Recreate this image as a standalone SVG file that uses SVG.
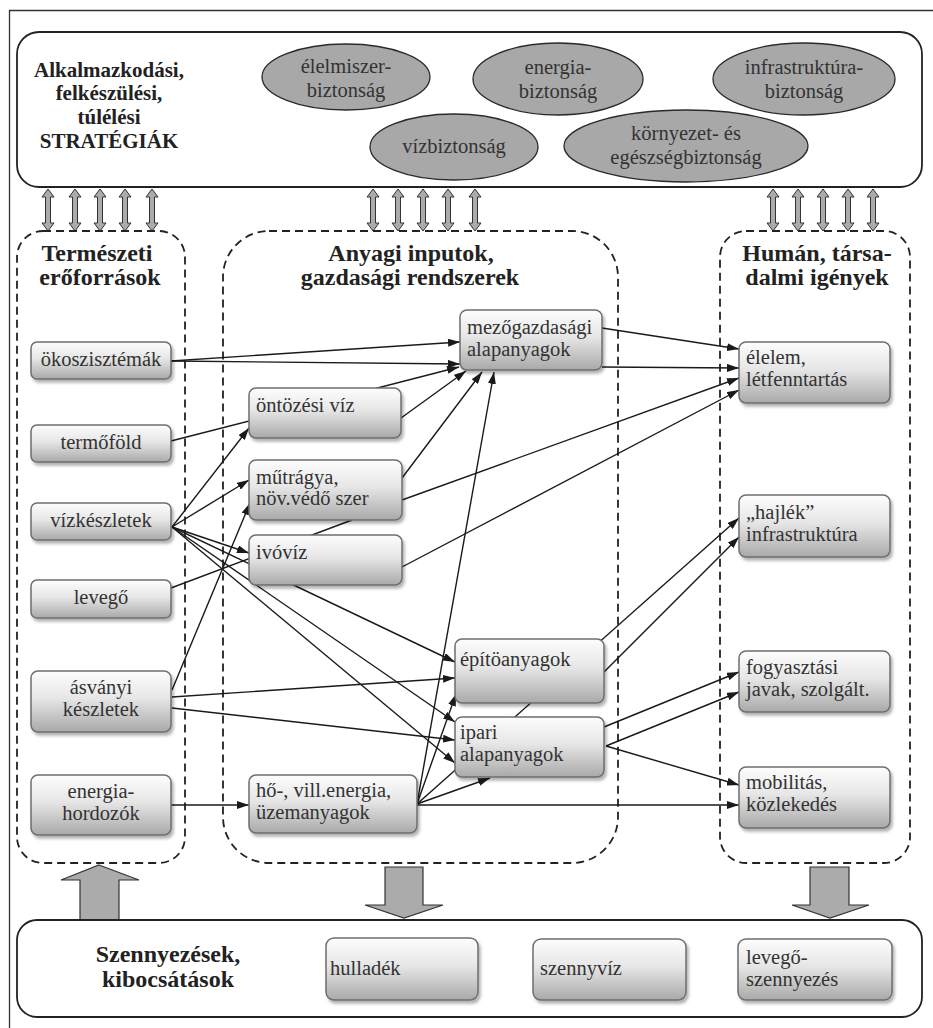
<svg xmlns="http://www.w3.org/2000/svg" xmlns:xlink="http://www.w3.org/1999/xlink" width="933" height="1028" viewBox="0 0 933 1028">
<defs>
<linearGradient id="ng" x1="0" y1="0" x2="0" y2="1">
<stop offset="0" stop-color="#fdfdfd"/>
<stop offset="0.45" stop-color="#e6e6e6"/>
<stop offset="1" stop-color="#a9a9a9"/>
</linearGradient>
<filter id="sh" x="-10%" y="-10%" width="125%" height="135%">
<feDropShadow dx="2" dy="3" stdDeviation="1.6" flood-color="#000" flood-opacity="0.3"/>
</filter>
<marker id="ah" viewBox="0 0 12 8" refX="12" refY="4" markerWidth="12" markerHeight="8" markerUnits="userSpaceOnUse" orient="auto">
<path d="M0,0 L12,4 L0,8 z" fill="#1a1a1a"/>
</marker>
<path id="dbl" d="M0,0 L6,8 L2.5,8 L2.5,34 L6,34 L0,42 L-6,34 L-2.5,34 L-2.5,8 L-6,8 Z"/>
<style>
.t{font-family:"Liberation Serif","Times New Roman",serif;fill:#333;font-size:20.5px}
.b{font-family:"Liberation Serif","Times New Roman",serif;fill:#222;font-weight:bold}
.c{text-anchor:middle}
.node{fill:url(#ng);stroke:#6e6e6e;stroke-width:1.5;filter:url(#sh)}
.ell{fill:#a8a8a8;stroke:#2a2a2a;stroke-width:1.3}
.dash{fill:none;stroke:#222;stroke-width:1.8;stroke-dasharray:8 5}
.box{fill:#fff;stroke:#222;stroke-width:1.8}
.dbl{fill:#ababab;stroke:#333;stroke-width:1}
.big{fill:#ababab;stroke:#333;stroke-width:1.2}
.con line{stroke:#1a1a1a;stroke-width:1.4;fill:none}
.arr{marker-end:url(#ah)}
</style>
</defs>
<rect width="933" height="1028" fill="#fff"/>
<path d="M9.5,1028 L9.5,10.5 L933,10.5" fill="none" stroke="#333" stroke-width="1.3"/>

<g id="strategiak">
<rect class="box" x="17" y="32" width="905" height="155" rx="22"/>
<text class="b c" font-size="21" x="109" y="77">Alkalmazkodási,</text>
<text class="b c" font-size="21" x="109" y="100">felkészülési,</text>
<text class="b c" font-size="21" x="109" y="124">túlélési</text>
<text class="b c" font-size="21" x="109" y="148">STRATÉGIÁK</text>
</g>
<g id="elelmiszer-biztonsag">
<ellipse class="ell" cx="346" cy="77" rx="84" ry="33"/>
<text class="t c" x="346" y="73">élelmiszer-</text>
<text class="t c" x="346" y="97">biztonság</text>
</g>
<g id="energia-biztonsag">
<ellipse class="ell" cx="558" cy="79" rx="85" ry="36"/>
<text class="t c" x="558" y="74">energia-</text>
<text class="t c" x="558" y="98">biztonság</text>
</g>
<g id="infrastruktura-biztonsag">
<ellipse class="ell" cx="804" cy="79" rx="91" ry="36"/>
<text class="t c" x="804" y="74">infrastruktúra-</text>
<text class="t c" x="804" y="98">biztonság</text>
</g>
<g id="vizbiztonsag">
<ellipse class="ell" cx="454" cy="147" rx="84" ry="33"/>
<text class="t c" x="454" y="153">vízbiztonság</text>
</g>
<g id="kornyezet-biztonsag">
<ellipse class="ell" cx="686" cy="146" rx="122" ry="36"/>
<text class="t c" x="686" y="140">környezet- és</text>
<text class="t c" x="686" y="164">egészségbiztonság</text>
</g>

<g id="kettos-nyilak" class="dbl">
<use xlink:href="#dbl" x="48" y="189"/>
<use xlink:href="#dbl" x="75" y="189"/>
<use xlink:href="#dbl" x="100" y="189"/>
<use xlink:href="#dbl" x="125" y="189"/>
<use xlink:href="#dbl" x="152" y="189"/>
<use xlink:href="#dbl" x="373" y="189"/>
<use xlink:href="#dbl" x="398" y="189"/>
<use xlink:href="#dbl" x="423" y="189"/>
<use xlink:href="#dbl" x="448" y="189"/>
<use xlink:href="#dbl" x="475" y="189"/>
<use xlink:href="#dbl" x="773" y="189"/>
<use xlink:href="#dbl" x="798" y="189"/>
<use xlink:href="#dbl" x="823" y="189"/>
<use xlink:href="#dbl" x="848" y="189"/>
<use xlink:href="#dbl" x="873" y="189"/>
</g>

<g id="termeszeti">
<rect class="dash" x="17" y="231" width="168" height="632" rx="26"/>
<text class="b c" font-size="24" x="97" y="261">Természeti</text>
<text class="b c" font-size="24" x="100" y="285">erőforrások</text>
</g>
<g id="anyagi">
<rect class="dash" x="223" y="231" width="395" height="632" rx="46"/>
<text class="b c" font-size="24" x="411" y="261">Anyagi inputok,</text>
<text class="b c" font-size="24" x="410" y="285">gazdasági rendszerek</text>
</g>
<g id="human">
<rect class="dash" x="720" y="231" width="190" height="632" rx="26"/>
<text class="b c" font-size="24" x="817" y="261">Humán, társa-</text>
<text class="b c" font-size="24" x="817" y="285">dalmi igények</text>
</g>

<g id="connectors" class="con">
<line class="arr" x1="171" y1="361" x2="460" y2="342"/>
<line class="arr" x1="171" y1="361" x2="460" y2="364"/>
<line class="arr" x1="171" y1="441" x2="459" y2="367"/>
<line class="arr" x1="172" y1="527" x2="249" y2="428"/>
<line class="arr" x1="172" y1="527" x2="249" y2="480"/>
<line class="arr" x1="172" y1="527" x2="249" y2="553"/>
<line class="arr" x1="172" y1="527" x2="455" y2="662"/>
<line class="arr" x1="172" y1="527" x2="455" y2="722"/>
<line class="arr" x1="172" y1="527" x2="455" y2="763"/>
<line x1="171" y1="588" x2="352" y2="520"/>
<line class="arr" x1="172" y1="690" x2="250" y2="503"/>
<line class="arr" x1="172" y1="697" x2="455" y2="678"/>
<line class="arr" x1="172" y1="708" x2="455" y2="740"/>
<line class="arr" x1="171" y1="805" x2="249" y2="805"/>
<line class="arr" x1="401" y1="418" x2="466" y2="371"/>
<line class="arr" x1="402" y1="478" x2="482" y2="372"/>
<line class="arr" x1="417" y1="804" x2="494" y2="372"/>
<line class="arr" x1="402" y1="500" x2="739" y2="378"/>
<line class="arr" x1="402" y1="567" x2="739" y2="390"/>
<line class="arr" x1="602" y1="328" x2="739" y2="349"/>
<line class="arr" x1="602" y1="367" x2="739" y2="368"/>
<line class="arr" x1="417" y1="804" x2="456" y2="694"/>
<line class="arr" x1="417" y1="804" x2="739" y2="518"/>
<line class="arr" x1="417" y1="804" x2="490" y2="778"/>
<line class="arr" x1="417" y1="805" x2="739" y2="805"/>
<line class="arr" x1="604" y1="672" x2="739" y2="537"/>
<line class="arr" x1="604" y1="727" x2="739" y2="672"/>
<line class="arr" x1="606" y1="746" x2="739" y2="692"/>
<line class="arr" x1="606" y1="746" x2="739" y2="785"/>
</g>

<g id="okoszisztemak">
<rect class="node" x="31" y="342" width="140" height="37" rx="6"/>
<text class="t c" x="101" y="366">ökoszisztémák</text>
</g>
<g id="termofold">
<rect class="node" x="31" y="425" width="140" height="37" rx="6"/>
<text class="t c" x="101" y="449">termőföld</text>
</g>
<g id="vizkeszletek">
<rect class="node" x="31" y="503" width="140" height="37" rx="6"/>
<text class="t c" x="101" y="527">vízkészletek</text>
</g>
<g id="levego">
<rect class="node" x="31" y="580" width="140" height="38" rx="6"/>
<text class="t c" x="101" y="604">levegő</text>
</g>
<g id="asvanyi">
<rect class="node" x="31" y="671" width="140" height="61" rx="7"/>
<text class="t c" x="101" y="694">ásványi</text>
<text class="t c" x="101" y="716">készletek</text>
</g>
<g id="energiahordozok">
<rect class="node" x="31" y="775" width="140" height="60" rx="7"/>
<text class="t c" x="101" y="798">energia-</text>
<text class="t c" x="101" y="820">hordozók</text>
</g>

<g id="ontozesi-viz">
<rect class="node" x="249" y="388" width="152" height="50" rx="7"/>
<text class="t" x="256" y="412">öntözési víz</text>
</g>
<g id="mutragya">
<rect class="node" x="249" y="460" width="153" height="60" rx="7"/>
<text class="t" x="256" y="484">műtrágya,</text>
<text class="t" x="256" y="505">növ.védő szer</text>
</g>
<g id="ivoviz">
<rect class="node" x="249" y="535" width="153" height="50" rx="7"/>
<text class="t" x="256" y="559">ivóvíz</text>
</g>
<g id="ho-energia">
<rect class="node" x="249" y="775" width="168" height="58" rx="7"/>
<text class="t" x="256" y="797">hő-, vill.energia,</text>
<text class="t" x="256" y="819">üzemanyagok</text>
</g>
<g id="mezogazdasagi">
<rect class="node" x="460" y="310" width="142" height="60" rx="7"/>
<text class="t" x="467" y="334">mezőgazdasági</text>
<text class="t" x="467" y="356">alapanyagok</text>
</g>
<g id="epitoanyagok">
<rect class="node" x="455" y="639" width="149" height="64" rx="7"/>
<text class="t" x="460" y="666">építöanyagok</text>
</g>
<g id="ipari">
<rect class="node" x="455" y="717" width="149" height="60" rx="7"/>
<text class="t" x="460" y="739">ipari</text>
<text class="t" x="460" y="761">alapanyagok</text>
</g>

<g id="elelem">
<rect class="node" x="739" y="342" width="151" height="61" rx="7"/>
<text class="t" x="746" y="364">élelem,</text>
<text class="t" x="746" y="386">létfenntartás</text>
</g>
<g id="hajlek">
<rect class="node" x="739" y="495" width="151" height="62" rx="7"/>
<text class="t" x="746" y="519">„hajlék”</text>
<text class="t" x="746" y="541">infrastruktúra</text>
</g>
<g id="fogyasztasi">
<rect class="node" x="739" y="651" width="151" height="61" rx="7"/>
<text class="t" x="746" y="674">fogyasztási</text>
<text class="t" x="746" y="696">javak, szolgált.</text>
</g>
<g id="mobilitas">
<rect class="node" x="739" y="767" width="151" height="61" rx="7"/>
<text class="t" x="746" y="789">mobilitás,</text>
<text class="t" x="746" y="811">közlekedés</text>
</g>

<g id="nagy-nyilak" class="big">
<polygon points="99,865 139,880 119,880 119,920 80,920 80,880 61,880"/>
<polygon points="385,867 423,867 423,905 443,905 404,918 365,905 385,905"/>
<polygon points="810,867 849,867 849,905 869,905 830,918 792,905 810,905"/>
</g>

<g id="szennyezesek">
<rect class="box" x="17" y="920" width="905" height="97" rx="20"/>
<text class="b c" font-size="24" x="168" y="962">Szennyezések,</text>
<text class="b c" font-size="24" x="168" y="987">kibocsátások</text>
</g>
<g id="hulladek">
<rect class="node" x="326" y="938" width="152" height="62" rx="8"/>
<text class="t" x="330" y="975">hulladék</text>
</g>
<g id="szennyviz">
<rect class="node" x="533" y="939" width="153" height="61" rx="8"/>
<text class="t" x="540" y="975">szennyvíz</text>
</g>
<g id="levego-szennyezes">
<rect class="node" x="738" y="939" width="154" height="61" rx="8"/>
<text class="t" x="746" y="964">levegő-</text>
<text class="t" x="746" y="986">szennyezés</text>
</g>
</svg>
